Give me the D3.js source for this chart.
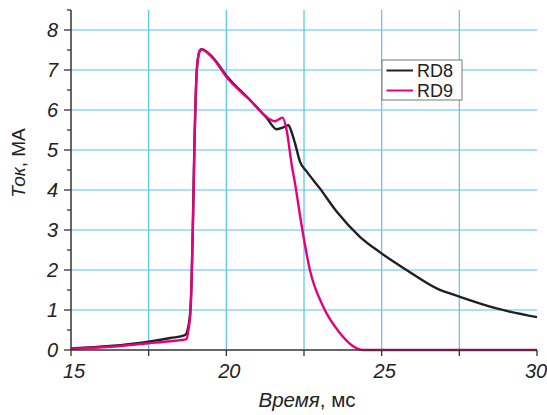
<!DOCTYPE html>
<html>
<head>
<meta charset="utf-8">
<script src="https://cdn.jsdelivr.net/npm/d3@7"></script>
<style>
  body { margin: 0; background: #fff; }
  svg { display: block; font-family: "Liberation Sans", Arial, sans-serif; }
</style>
</head>
<body>
<div id="chart"></div>
<script>
// RD8 (black) — time in ms, current in MA
const rd8Time = [15, 16.25, 17.5, 18.2, 18.67, 18.78, 18.85, 18.92, 18.97, 19.05, 19.13, 19.2,
  19.58, 20.01, 20.76, 21.3, 21.62, 21.85, 22.0, 22.1, 22.21, 22.37, 22.59, 23.01, 23.55, 24.3,
  24.95, 25.8, 26.77, 27.52, 28.7, 30];
const rd8Current = [0.04, 0.1, 0.21, 0.3, 0.37, 0.6, 1.1, 3.0, 5.0, 7.0, 7.45, 7.52,
  7.3, 6.85, 6.25, 5.8, 5.52, 5.57, 5.62, 5.45, 5.17, 4.71, 4.46, 4.04, 3.46, 2.83,
  2.44, 2.0, 1.54, 1.33, 1.04, 0.82];

// RD9 (magenta)
const rd9Time = [15, 16.25, 17.5, 18.2, 18.72, 18.78, 18.85, 18.92, 18.97, 19.05, 19.13, 19.2,
  19.58, 20.01, 20.76, 21.4, 21.55, 21.81, 21.94, 22.1, 22.21, 22.43, 22.69, 23.12, 23.66, 24.2,
  24.4, 27, 30];
const rd9Current = [0.03, 0.08, 0.17, 0.22, 0.27, 0.5, 1.0, 3.0, 5.0, 7.0, 7.45, 7.52,
  7.28, 6.82, 6.25, 5.77, 5.72, 5.81, 5.5, 4.65, 4.17, 3.08, 2.0, 1.08, 0.42, 0.04,
  0, 0, 0];

const xTicks = [15, 17.5, 20, 22.5, 25, 27.5, 30];
const xLabels = [15, 20, 25, 30];
const yTicks = [0, 1, 2, 3, 4, 5, 6, 7, 8];
const yMinor = [0.5, 1.5, 2.5, 3.5, 4.5, 5.5, 6.5, 7.5, 8.5];
const seriesNames = ["RD8", "RD9"];
const seriesColors = ["#231f20", "#e6007e"];

const width = 547, height = 415;
const margin = { top: 10, right: 10, bottom: 65, left: 71 };
const plotW = 537 - margin.left;
const plotH = 350 - margin.top;

const svg = d3.select("#chart").append("svg")
  .attr("width", width)
  .attr("height", height);

const x = d3.scaleLinear().domain([15, 30]).range([margin.left, margin.left + plotW]);
const y = d3.scaleLinear().domain([0, 8.5]).range([margin.top + plotH, margin.top]);

// grid
const grid = svg.append("g");
grid.selectAll("line.v")
  .data(xTicks.filter(d => d > 15 && d < 30))
  .enter().append("line")
  .attr("x1", d => x(d)).attr("x2", d => x(d))
  .attr("y1", y(8.5)).attr("y2", y(0))
  .attr("stroke", "#55c5ee").attr("stroke-width", 1.2);
grid.selectAll("line.h")
  .data(yTicks.filter(d => d > 0))
  .enter().append("line")
  .attr("x1", x(15)).attr("x2", x(30))
  .attr("y1", d => y(d)).attr("y2", d => y(d))
  .attr("stroke", "#55c5ee").attr("stroke-width", 1.2);

// lines
const line = d3.line().curve(d3.curveMonotoneX);
const series = [
  { t: rd8Time, v: rd8Current },
  { t: rd9Time, v: rd9Current }
];
series.forEach((s, i) => {
  svg.append("path")
    .attr("d", line(s.t.map((t, k) => [x(t), y(s.v[k])])))
    .attr("fill", "none")
    .attr("stroke", seriesColors[i])
    .attr("stroke-width", 2.4)
    .attr("stroke-linejoin", "round");
});

// axes
const axisColor = "#333";
svg.append("line")
  .attr("x1", x(15)).attr("x2", x(15))
  .attr("y1", y(8.5)).attr("y2", y(0))
  .attr("stroke", axisColor).attr("stroke-width", 1.5);
svg.append("line")
  .attr("x1", x(15)).attr("x2", x(30))
  .attr("y1", y(0)).attr("y2", y(0))
  .attr("stroke", axisColor).attr("stroke-width", 1.5);

svg.selectAll("line.xt")
  .data(xTicks).enter().append("line")
  .attr("x1", d => x(d)).attr("x2", d => x(d))
  .attr("y1", y(0)).attr("y2", y(0) + 6)
  .attr("stroke", axisColor).attr("stroke-width", 1.3);
svg.selectAll("line.yt")
  .data(yTicks).enter().append("line")
  .attr("x1", x(15) - 7).attr("x2", x(15))
  .attr("y1", d => y(d)).attr("y2", d => y(d))
  .attr("stroke", axisColor).attr("stroke-width", 1.3);
svg.selectAll("line.ym")
  .data(yMinor).enter().append("line")
  .attr("x1", x(15) - 4).attr("x2", x(15))
  .attr("y1", d => y(d)).attr("y2", d => y(d))
  .attr("stroke", axisColor).attr("stroke-width", 1.3);

svg.selectAll("text.xl")
  .data(xLabels).enter().append("text")
  .attr("x", d => x(d) + (d === 30 ? -1 : 3)).attr("y", 378)
  .attr("text-anchor", "middle")
  .attr("font-size", 20).attr("font-style", "italic").attr("fill", "#222")
  .text(d => d);
svg.selectAll("text.yl")
  .data(yTicks).enter().append("text")
  .attr("x", 58).attr("y", d => y(d) + 7)
  .attr("text-anchor", "end")
  .attr("font-size", 20).attr("font-style", "italic").attr("fill", "#222")
  .text(d => d);

// axis titles
const xt = svg.append("text")
  .attr("x", 307).attr("y", 407)
  .attr("text-anchor", "middle")
  .attr("font-size", 20.5).attr("fill", "#222");
xt.append("tspan").attr("font-style", "italic").text("Время");
xt.append("tspan").text(", мс");

const yt = svg.append("text")
  .attr("transform", "translate(25,163) rotate(-90)")
  .attr("text-anchor", "middle")
  .attr("font-size", 19).attr("fill", "#222");
yt.append("tspan").attr("font-style", "italic").text("Ток");
yt.append("tspan").text(", МА");

// legend
const legend = svg.append("g").attr("transform", "translate(382,60)");
legend.append("rect")
  .attr("width", 80).attr("height", 40)
  .attr("fill", "#fff").attr("stroke", "#777").attr("stroke-width", 1);
seriesNames.forEach((name, i) => {
  const ly = 10.5 + i * 20;
  legend.append("line")
    .attr("x1", 4.5).attr("x2", 31)
    .attr("y1", ly).attr("y2", ly)
    .attr("stroke", seriesColors[i]).attr("stroke-width", 2);
  legend.append("text")
    .attr("x", 35).attr("y", ly + 6.5)
    .attr("font-size", 18).attr("fill", "#222")
    .text(name);
});
</script>
</body>
</html>
